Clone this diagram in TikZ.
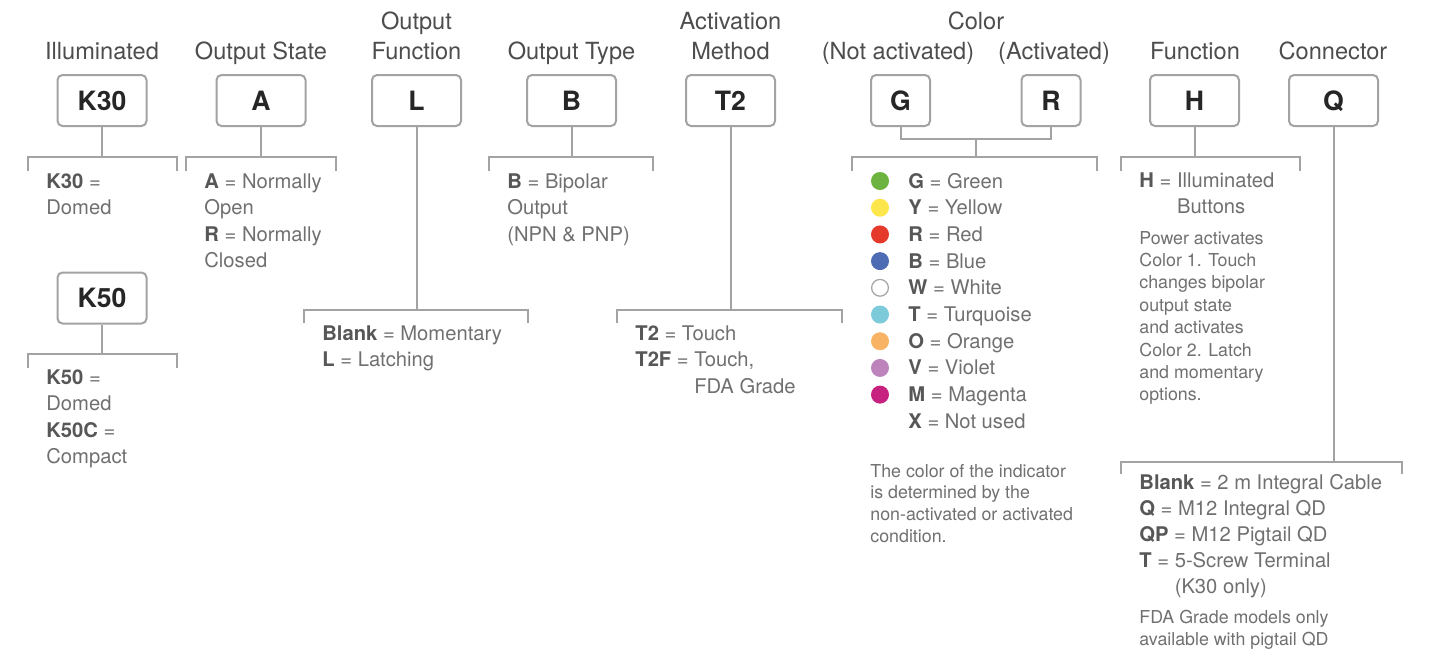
\documentclass[tikz,border=0pt]{standalone}
\usepackage{fontspec}
\setmainfont{TeX Gyre Heros}
\definecolor{lnc}{HTML}{A3A3A3}
\definecolor{tx}{HTML}{707070}
\definecolor{bx}{HTML}{575757}
\definecolor{ti}{HTML}{4D4D4D}
\definecolor{bt}{HTML}{262626}
\definecolor{cG}{HTML}{6DB33F}
\definecolor{cY}{HTML}{FDE64B}
\definecolor{cR}{HTML}{E5392B}
\definecolor{cB}{HTML}{4E6CB3}
\definecolor{cT}{HTML}{7DCADB}
\definecolor{cO}{HTML}{F8B365}
\definecolor{cV}{HTML}{BD84BC}
\definecolor{cM}{HTML}{C7217F}
\newcommand\mylines[2]{\vtop{\baselineskip=#1\lineskiplimit=-50pt\lineskip=0pt\halign{##\hfil\cr#2\crcr}}}
\newcommand\B[1]{{\bfseries\color{bx}#1}}
\begin{document}
\begin{tikzpicture}[x=0.5pt,y=-0.5pt,
  ln/.style={draw=lnc, line width=1pt},
  box/.style={draw=lnc, line width=1pt, rounded corners=2.5pt, minimum width=44.5pt, minimum height=25.5pt, inner sep=0pt, text height=9.7pt, text depth=0pt, font=\fontsize{13.3}{16}\selectfont\bfseries, text=bt},
  cbox/.style={box, minimum width=29.5pt},
  ttl/.style={anchor=base, inner sep=0pt, font=\fontsize{11.8}{14}\selectfont, text=ti},
  dsc/.style={anchor=base west, inner sep=0pt, font=\fontsize{10.1}{13.25}\selectfont, text=tx},
  sml/.style={anchor=base west, inner sep=0pt, font=\fontsize{8.9}{11.2}\selectfont, text=tx},
  dot/.style={circle, inner sep=0pt, minimum size=9pt},
]
\fill[white] (0,0) rectangle (1429,655);
\useasboundingbox (0,0) rectangle (1429,655);

% titles
\node[ttl] (t1) at (102,59) {Illuminated};
\node[ttl] (t2) at (261,59) {Output State};
\node[ttl] (t3a) at (416.5,29) {Output};
\node[ttl] (t3b) at (416.5,59) {Function};
\node[ttl] (t4) at (571.5,59) {Output Type};
\node[ttl] (t5a) at (730.5,29) {Activation};
\node[ttl] (t5b) at (730.5,59) {Method};
\node[ttl] (t6) at (976,29) {Color};
\node[ttl] (t6a) at (898,59) {(Not activated)};
\node[ttl] (t6b) at (1054,59) {(Activated)};
\node[ttl] (t7) at (1195,59) {Function};
\node[ttl] (t8) at (1333,59) {Connector};

% boxes
\node[box] (k30) at (102,100.5) {K30};
\node[box] (a) at (261,100.5) {A};
\node[box] (l) at (416.5,100.5) {L};
\node[box] (b) at (571.5,100.5) {B};
\node[box] (t2b) at (730.5,100.5) {T2};
\node[cbox] (g) at (900.5,100.5) {G};
\node[cbox] (r) at (1051,100.5) {R};
\node[box] (h) at (1194.5,100.5) {H};
\node[box] (q) at (1333.5,100.5) {Q};
\node[box] (k50) at (102,298) {K50};

% junction coordinates
\coordinate (k30j) at (102,157);
\coordinate (aj) at (261,157);
\coordinate (lj) at (416.5,310);
\coordinate (bj) at (571.5,157);
\coordinate (t2j) at (730.5,310);
\coordinate (grm) at (976,139);
\coordinate (cj) at (976,157);
\coordinate (hj) at (1194.5,157);
\coordinate (qj) at (1333.5,462);
\coordinate (k50j) at (102,354);

% connectors
\draw[ln] (k30.south) -- (k30j);
\draw[ln] (a.south) -- (aj);
\draw[ln] (l.south) -- (lj);
\draw[ln] (b.south) -- (bj);
\draw[ln] (t2b.south) -- (t2j);
\draw[ln] (g.south) |- (grm) -| (r.south);
\draw[ln] (grm) -- (cj);
\draw[ln] (h.south) -- (hj);
\draw[ln] (q.south) -- (qj);
\draw[ln] (k50.south) -- (k50j);

% brackets
\draw[ln] (28,171) -- (28,157) -- (177,157) -- (177,171);
\draw[ln] (186,171) -- (186,157) -- (336,157) -- (336,171);
\draw[ln] (304,323) -- (304,310) -- (528,310) -- (528,323);
\draw[ln] (489,171) -- (489,157) -- (653,157) -- (653,171);
\draw[ln] (617,323) -- (617,310) -- (842,310) -- (842,323);
\draw[ln] (852,171) -- (852,157) -- (1097,157) -- (1097,171);
\draw[ln] (1121,171) -- (1121,157) -- (1300,157) -- (1300,171);
\draw[ln] (1121,474) -- (1121,462) -- (1402,462) -- (1402,474);
\draw[ln] (28,368) -- (28,354) -- (177,354) -- (177,368);

% descriptions
\node[dsc] (dk30) at (46,188) {\mylines{13.25pt}{\B{K30} =\cr Domed}};
\node[dsc] (da) at (204,188) {\mylines{13.25pt}{\B{A} = Normally\cr Open\cr \B{R} = Normally\cr Closed}};
\node[dsc] (dk50) at (46,384) {\mylines{13.25pt}{\B{K50} =\cr Domed\cr \B{K50C} =\cr Compact}};
\node[dsc] (dl) at (322,340) {\mylines{13.25pt}{\B{Blank} = Momentary\cr \B{L} = Latching}};
\node[dsc] (db) at (507,188) {\mylines{13.25pt}{\B{B} = Bipolar\cr Output\cr (NPN \& PNP)}};
\node[dsc] (dt2) at (635,340) {\mylines{13.25pt}{\B{T2} = Touch\cr \B{T2F} = Touch,\cr \phantom{\B{T2F} = }FDA Grade}};
\node[dsc] (dc) at (908,188) {\mylines{13.35pt}{\B{G} = Green\cr \B{Y} = Yellow\cr \B{R} = Red\cr \B{B} = Blue\cr \B{W} = White\cr \B{T} = Turquoise\cr \B{O} = Orange\cr \B{V} = Violet\cr \B{M} = Magenta\cr \B{X} = Not used}};
\node[sml] (nc) at (870,477) {\mylines{10.9pt}{The color of the indicator\cr is determined by the\cr non-activated or activated\cr condition.}};
\node[dsc] (dh) at (1139,187) {\mylines{13.25pt}{\B{H} = Illuminated\cr \phantom{\B{H} = }Buttons}};
\node[sml] (nh) at (1139,244) {\mylines{11.2pt}{Power activates\cr Color 1. Touch\cr changes bipolar\cr output state\cr and activates\cr Color 2. Latch\cr and momentary\cr options.}};
\node[dsc] (dq) at (1139,489) {\mylines{13pt}{\B{Blank} = 2 m Integral Cable\cr \B{Q} = M12 Integral QD\cr \B{QP} = M12 Pigtail QD\cr \B{T} = 5-Screw Terminal\cr \phantom{\B{T} = }(K30 only)}};
\node[sml] (nq) at (1139,623) {\mylines{11.3pt}{FDA Grade models only\cr available with pigtail QD}};

% colour dots
\node[dot, fill=cG] (d0) at (880,181) {};
\node[dot, fill=cY] (d1) at (880,207.7) {};
\node[dot, fill=cR] (d2) at (880,234.4) {};
\node[dot, fill=cB] (d3) at (880,261.1) {};
\node[dot, fill=white, draw=lnc, line width=0.6pt, minimum size=8.4pt] (d4) at (880,287.8) {};
\node[dot, fill=cT] (d5) at (880,314.5) {};
\node[dot, fill=cO] (d6) at (880,341.2) {};
\node[dot, fill=cV] (d7) at (880,367.9) {};
\node[dot, fill=cM] (d8) at (880,394.6) {};
\end{tikzpicture}
\end{document}
